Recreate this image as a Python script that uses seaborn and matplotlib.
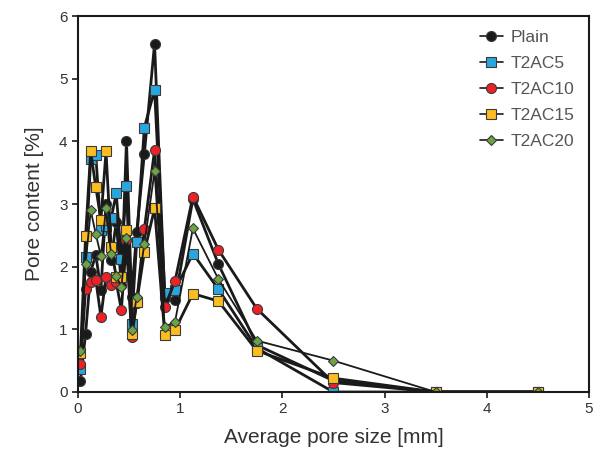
import matplotlib
matplotlib.use("Agg")
import matplotlib.pyplot as plt
import seaborn as sns
import pandas as pd

# Average pore size bins [mm]
pore_size = [0.025, 0.075, 0.125, 0.175, 0.225, 0.275, 0.325, 0.375, 0.425,
             0.475, 0.525, 0.575, 0.65, 0.75, 0.85, 0.95, 1.125, 1.375,
             1.75, 2.5, 3.5, 4.5]

# Pore content [%] per mixture
plain = [0.18, 0.93, 1.92, 2.19, 1.63, 3.00, 2.10, 2.72, 1.70, 4.01, 1.52,
         2.55, 3.80, 5.56, 1.50, 1.47, 3.08, 2.04, 0.75, 0.18, 0.0, 0.0]
t2ac5 = [0.37, 2.15, 3.72, 3.78, 2.58, 2.65, 2.77, 3.17, 2.13, 3.28, 1.08,
         2.40, 4.22, 4.82, 1.58, 1.62, 2.21, 1.64, 0.70, 0.0, 0.0, 0.0]
t2ac10 = [0.44, 1.64, 1.76, 1.79, 1.20, 1.84, 1.71, 1.75, 1.31, 2.42, 0.88,
          1.42, 2.60, 3.86, 1.36, 1.77, 3.12, 2.27, 1.33, 0.15, 0.0, 0.0]
t2ac15 = [0.63, 2.49, 3.84, 3.27, 2.75, 3.84, 2.31, 1.84, 1.84, 2.58, 0.92,
          1.43, 2.23, 2.93, 0.91, 0.99, 1.57, 1.45, 0.66, 0.22, 0.0, 0.0]
t2ac20 = [0.65, 2.04, 2.90, 2.52, 2.17, 2.93, 2.20, 1.85, 1.68, 2.46, 0.99,
          1.52, 2.36, 3.52, 1.04, 1.12, 2.61, 1.80, 0.82, 0.50, 0.0, 0.0]

series_names = ["Plain", "T2AC5", "T2AC10", "T2AC15", "T2AC20"]
series_values = [plain, t2ac5, t2ac10, t2ac15, t2ac20]

styles = {
    "Plain":  dict(marker="o", mfc="#1a1a1a", ms=7.2, lw=2.0),
    "T2AC5":  dict(marker="s", mfc="#2aa6df", ms=7.0, lw=2.0),
    "T2AC10": dict(marker="o", mfc="#ec2227", ms=7.2, lw=2.0),
    "T2AC15": dict(marker="s", mfc="#fbbd1f", ms=7.0, lw=2.0),
    "T2AC20": dict(marker="D", mfc="#6aa444", ms=5.4, lw=1.3),
}

sns.set_theme(style="white")
plt.rcParams["font.family"] = ["Liberation Sans", "DejaVu Sans"]

fig = plt.figure(figsize=(6.04, 4.59), dpi=100)
ax = fig.add_axes([0.129, 0.146, 0.846, 0.819])

for name, vals in zip(series_names, series_values):
    df = pd.DataFrame({"size": pore_size, "content": vals})
    st = styles[name]
    sns.lineplot(data=df, x="size", y="content", ax=ax, sort=False,
                 color="#1a1a1a", lw=st["lw"], marker=st["marker"],
                 markersize=st["ms"], markerfacecolor=st["mfc"],
                 markeredgecolor="#3a3a3a", markeredgewidth=0.8,
                 label=name, estimator=None)

ax.set_xlim(0, 5)
ax.set_ylim(0, 6)
ax.set_xticks(range(0, 6))
ax.set_yticks(range(0, 7))
ax.set_xlabel("Average pore size [mm]", fontsize=15, color="#333333", labelpad=8)
ax.set_ylabel("Pore content [%]", fontsize=15, color="#333333", labelpad=11)
ax.tick_params(direction="out", length=4, width=1.2, labelsize=11,
               colors="#1a1a1a", labelcolor="#333333",
               bottom=True, left=True)
for sp in ax.spines.values():
    sp.set_color("#1a1a1a")
    sp.set_linewidth(1.5)
    sp.set_visible(True)

leg = ax.legend(loc="upper right", frameon=False, fontsize=12.5,
                handlelength=1.3, handletextpad=0.45, labelspacing=0.62,
                borderaxespad=0.3, bbox_to_anchor=(0.995, 0.995))
for t in leg.get_texts():
    t.set_color("#555555")
for ln in leg.get_lines():
    ln.set_linewidth(1.2)

fig.savefig("out.png", dpi=100)
